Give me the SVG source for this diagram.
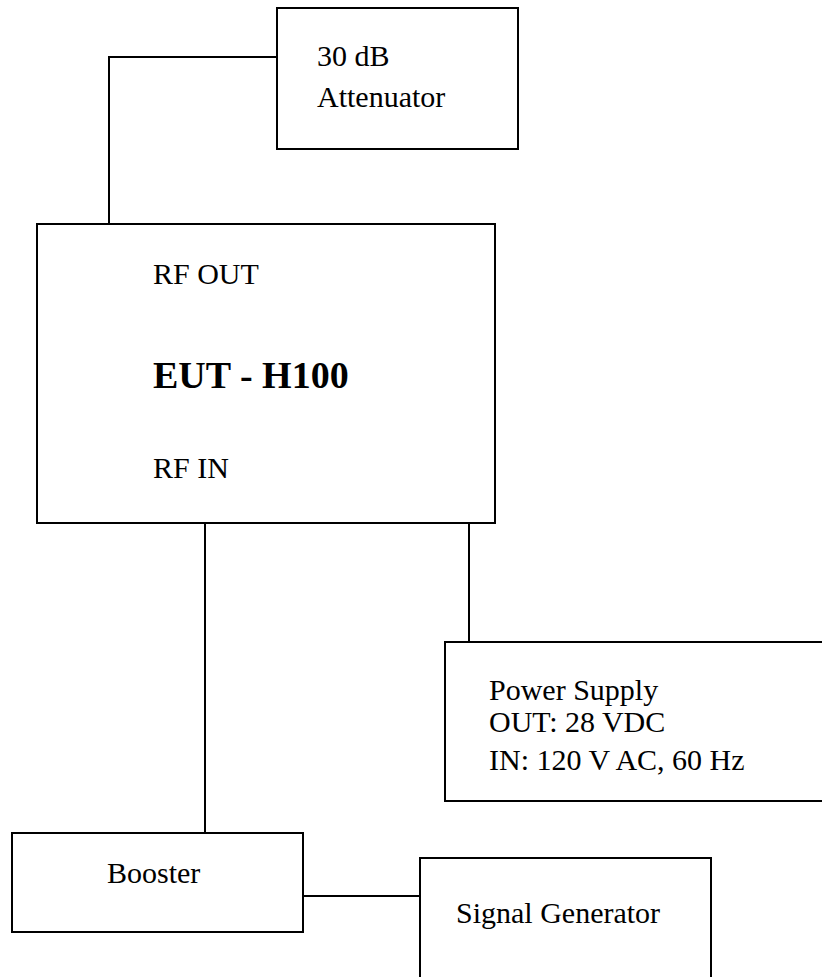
<svg xmlns="http://www.w3.org/2000/svg" width="822" height="977" viewBox="0 0 822 977">
<style>
.box{fill:#fff;stroke:#000;stroke-width:2}
.wire{fill:none;stroke:#000;stroke-width:2}
text{font-family:"Liberation Serif","Times New Roman",serif;fill:#000;font-size:30px}
.b{font-weight:bold;font-size:38px}
</style>
<rect width="822" height="977" fill="#fff"/>
<g id="connectors">
<polyline class="wire" points="277,57 109,57 109,224"/>
<line class="wire" x1="205" y1="523" x2="205" y2="833"/>
<line class="wire" x1="469" y1="523" x2="469" y2="642"/>
<line class="wire" x1="303" y1="896" x2="420" y2="896"/>
</g>
<g id="attenuator">
<rect class="box" x="277" y="8" width="241" height="141"/>
<text x="317" y="66" font-size="31">30 dB</text>
<text x="317" y="107" font-size="31">Attenuator</text>
</g>
<g id="eut">
<rect class="box" x="37" y="224" width="458" height="299"/>
<text x="153" y="284" font-size="31.5">RF OUT</text>
<text x="153" y="388" class="b">EUT - H100</text>
<text x="153" y="478" font-size="31">RF IN</text>
</g>
<g id="power-supply">
<rect class="box" x="445" y="642" width="380" height="159"/>
<text x="489" y="700" font-size="28">Power Supply</text>
<text x="489" y="732" font-size="28">OUT: 28 VDC</text>
<text x="489" y="770" font-size="28">IN: 120 V AC, 60 Hz</text>
</g>
<g id="booster">
<rect class="box" x="12" y="833" width="291" height="99"/>
<text x="107" y="883">Booster</text>
</g>
<g id="signal-generator">
<rect class="box" x="420" y="858" width="291" height="122"/>
<text x="456" y="923" font-size="32">Signal Generator</text>
</g>
</svg>
